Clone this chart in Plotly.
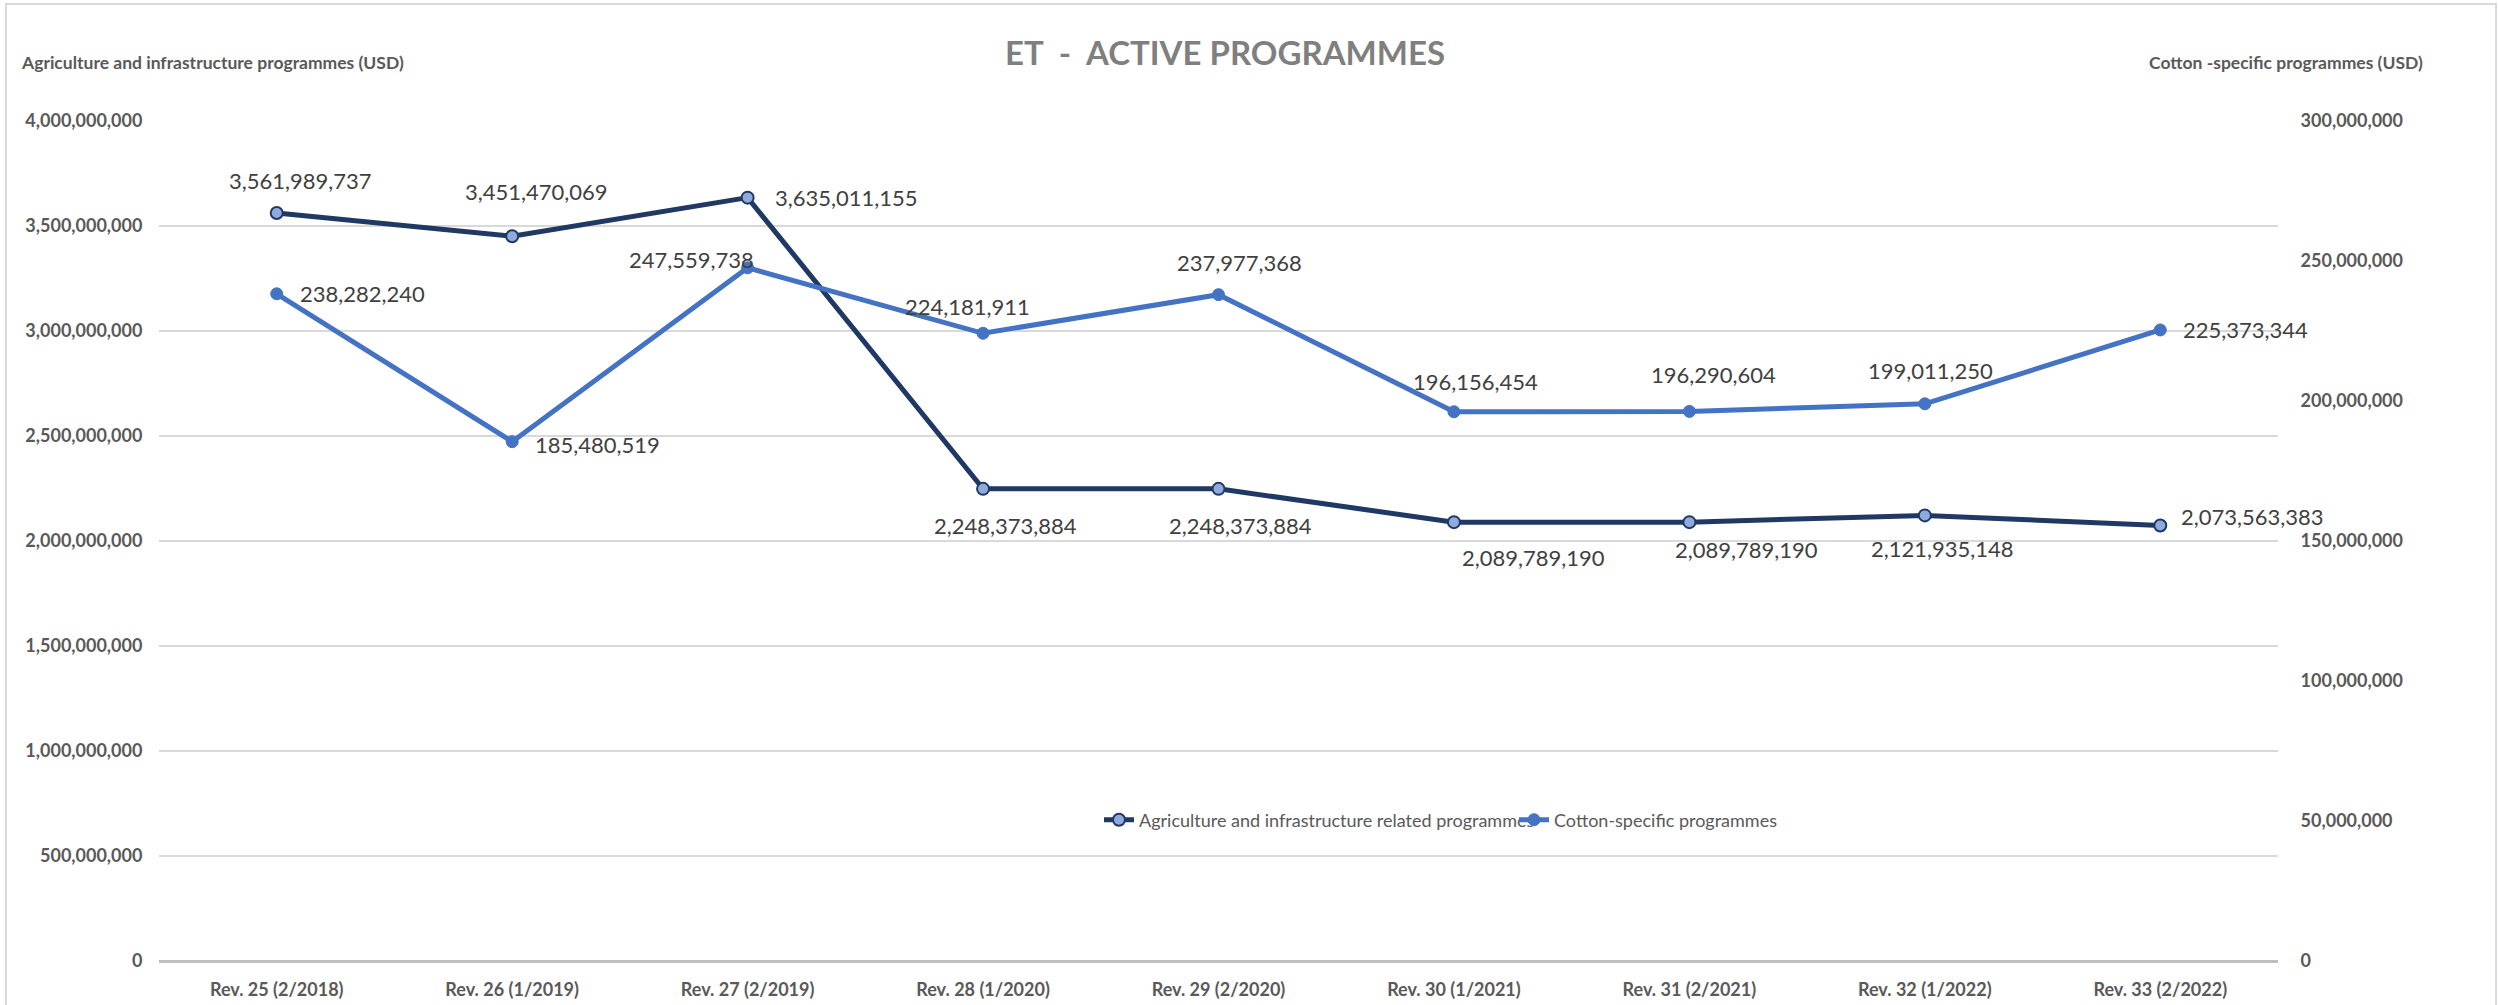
import plotly.graph_objects as go

categories = ["Rev. 25 (2/2018)", "Rev. 26 (1/2019)", "Rev. 27 (2/2019)", "Rev. 28 (1/2020)",
              "Rev. 29 (2/2020)", "Rev. 30 (1/2021)", "Rev. 31 (2/2021)", "Rev. 32 (1/2022)",
              "Rev. 33 (2/2022)"]
agri_values = [3561989737, 3451470069, 3635011155, 2248373884, 2248373884,
               2089789190, 2089789190, 2121935148, 2073563383]
cotton_values = [238282240, 185480519, 247559738, 224181911, 237977368,
                 196156454, 196290604, 199011250, 225373344]
agri_name = "Agriculture and infrastructure related programmes"
cotton_name = "Cotton-specific programmes"
title_text = "ET  -  ACTIVE PROGRAMMES"
left_title = "Agriculture and infrastructure programmes (USD)"
right_title = "Cotton -specific programmes (USD)"

# label placement (style): (xshift, yshift, xanchor)
agri_label_pos = [(24, 32, "center"), (24, 45, "center"), (25, 0, "left"), (22, -37, "center"),
                  (22, -37, "center"), (80, -35, "center"), (57, -27, "center"), (18, -33, "center"),
                  (19, 9, "left")]
cotton_label_pos = [(21, 0, "left"), (21, -3, "left"), (-56, 8, "center"), (-16, 27, "center"),
                    (21, 32, "center"), (22, 30, "center"), (24, 37, "center"), (6, 33, "center"),
                    (21, 0, "left")]

FONT = "Lato, 'Open Sans', 'Liberation Sans', sans-serif"
W, H = 2498, 1005
ML, MR, MT, MB = 159, 220, 121, 44
PW, PH = W - ML - MR, H - MT - MB

fig = go.Figure()
fig.add_trace(go.Scatter(
    x=categories, y=agri_values, name=agri_name, mode="lines+markers",
    line=dict(color="#203864", width=5),
    marker=dict(symbol="circle", size=12, color="#8FAADC", line=dict(color="#203864", width=2)),
    yaxis="y"))
fig.add_trace(go.Scatter(
    x=categories, y=cotton_values, name=cotton_name, mode="lines+markers",
    line=dict(color="#4472C4", width=5),
    marker=dict(symbol="circle", size=12, color="#4472C4", line=dict(color="#4472C4", width=1)),
    yaxis="y2"))

annotations = []
for c, v, (dx, dy, xa) in zip(categories, agri_values, agri_label_pos):
    annotations.append(dict(x=c, y=v, xref="x", yref="y", text=f"{v:,}", showarrow=False,
                            xshift=dx, yshift=dy, xanchor=xa, yanchor="middle",
                            font=dict(family=FONT, size=22, color="#404040")))
for c, v, (dx, dy, xa) in zip(categories, cotton_values, cotton_label_pos):
    annotations.append(dict(x=c, y=v, xref="x", yref="y2", text=f"{v:,}", showarrow=False,
                            xshift=dx, yshift=dy, xanchor=xa, yanchor="middle",
                            font=dict(family=FONT, size=22, color="#404040")))

# axis titles
annotations.append(dict(x=(19 - ML) / PW, y=(H - MB - 62) / PH, xref="paper", yref="paper",
                        text=f"<b>{left_title}</b>", showarrow=False, xanchor="left", yanchor="middle",
                        font=dict(family=FONT, size=17.5, color="#595959")))
annotations.append(dict(x=(2425 - ML) / PW, y=(H - MB - 62) / PH, xref="paper", yref="paper",
                        text=f"<b>{right_title}</b>", showarrow=False, xanchor="right", yanchor="middle",
                        font=dict(family=FONT, size=17.5, color="#595959")))

fig.update_layout(
    width=W, height=H,
    margin=dict(l=ML, r=MR, t=MT, b=MB, autoexpand=False),
    paper_bgcolor="white", plot_bgcolor="white",
    font=dict(family=FONT, color="#595959"),
    title=dict(text=f"<b>{title_text}</b>", x=1225 / W, xanchor="center", y=1 - 53 / H, yanchor="middle",
               font=dict(family=FONT, size=33, color="#7F7F7F")),
    xaxis=dict(type="category", range=[-0.5, len(categories) - 0.5], showgrid=False, showline=False,
               ticks="outside", ticklen=12, tickcolor="rgba(0,0,0,0)",
               tickfont=dict(family=FONT, size=18, color="#595959", weight="bold")),
    yaxis=dict(range=[0, 4000000000], dtick=500000000, tickformat=",d", showgrid=True,
               gridcolor="#D9D9D9", gridwidth=1.5, zeroline=True, zerolinecolor="#BFBFBF",
               zerolinewidth=3, showline=False, ticks="outside", ticklen=12, tickcolor="rgba(0,0,0,0)",
               tickfont=dict(family=FONT, size=18, color="#595959", weight="bold")),
    yaxis2=dict(range=[0, 300000000], dtick=50000000, tickformat=",d", overlaying="y", side="right",
                showgrid=False, zeroline=False, showline=False, ticks="outside", ticklen=18,
                tickcolor="rgba(0,0,0,0)",
                tickfont=dict(family=FONT, size=18, color="#595959", weight="bold")),
    legend=dict(orientation="h", x=(1099 - ML) / PW, xanchor="left", y=(H - MB - 820) / PH,
                yanchor="middle", bgcolor="rgba(0,0,0,0)",
                font=dict(family=FONT, size=18, color="#595959"),
                entrywidth=370, entrywidthmode="pixels"),
    annotations=annotations,
    shapes=[dict(type="rect", xref="paper", yref="paper",
                 x0=(6 - ML) / PW, x1=(2496 - ML) / PW,
                 y0=(H - MB - 1010) / PH, y1=(H - MB - 4) / PH,
                 line=dict(color="#D9D9D9", width=2), fillcolor="rgba(0,0,0,0)", layer="below")],
    showlegend=True,
)

fig.write_html("out.html", config={"displayModeBar": False},
               post_script="document.body.style.margin='0';document.body.style.overflow='hidden';")
